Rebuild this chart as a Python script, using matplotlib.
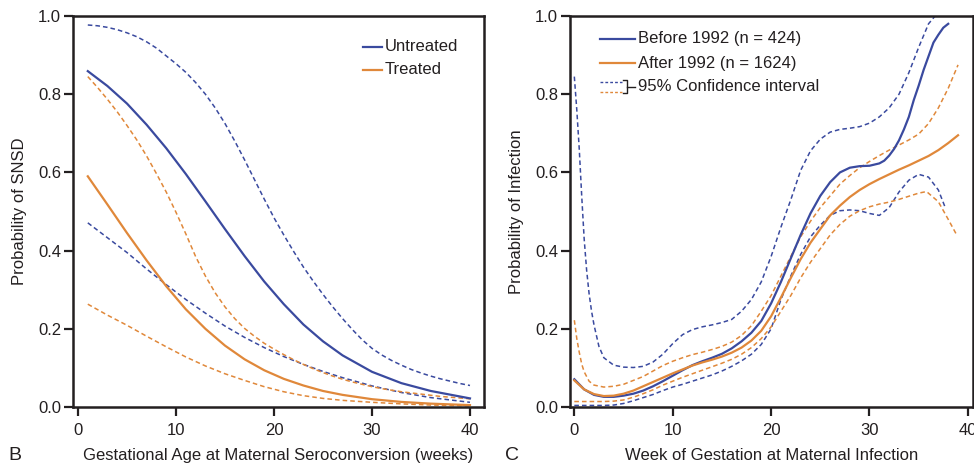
import matplotlib
matplotlib.use('Agg')
import matplotlib.pyplot as plt
import numpy as np

plt.rcParams['font.family'] = ['Liberation Sans', 'DejaVu Sans']
plt.rcParams['font.size'] = 12

blue = '#3a4a9f'
orange = '#e0883a'
dark = '#231f20'

# panel B - probability of SNSD
wk_b = [1, 3, 5, 7, 9, 11, 13, 15, 17, 19, 21, 23, 25, 27, 30, 33, 36, 40]
untreated = [0.859, 0.821, 0.776, 0.722, 0.662, 0.596, 0.526, 0.455, 0.386, 0.321,
             0.263, 0.211, 0.168, 0.132, 0.090, 0.061, 0.041, 0.022]
untreated_lo = [0.471, 0.433, 0.395, 0.353, 0.313, 0.275, 0.240, 0.207, 0.178, 0.152,
                0.129, 0.109, 0.091, 0.075, 0.054, 0.037, 0.024, 0.012]
treated = [0.590, 0.518, 0.445, 0.375, 0.309, 0.250, 0.200, 0.157, 0.122, 0.094,
           0.072, 0.055, 0.041, 0.031, 0.020, 0.013, 0.0086, 0.0048]
treated_lo = [0.263, 0.235, 0.209, 0.181, 0.154, 0.128, 0.105, 0.085, 0.068, 0.052,
              0.039, 0.029, 0.022, 0.017, 0.012, 0.008, 0.005, 0.003]

wk_b_hi = list(range(1, 41))
untreated_hi = [0.977, 0.975, 0.971, 0.965, 0.957, 0.947, 0.934, 0.918, 0.898, 0.878,
                0.856, 0.830, 0.800, 0.765, 0.725, 0.680, 0.632, 0.582, 0.532, 0.484,
                0.440, 0.398, 0.358, 0.322, 0.288, 0.256, 0.226, 0.198, 0.172, 0.150,
                0.133, 0.119, 0.107, 0.096, 0.087, 0.079, 0.072, 0.066, 0.060, 0.055]
treated_hi = [0.845, 0.817, 0.787, 0.755, 0.720, 0.683, 0.642, 0.597, 0.550, 0.498,
              0.443, 0.385, 0.335, 0.292, 0.256, 0.226, 0.201, 0.181, 0.163, 0.148,
              0.134, 0.121, 0.109, 0.098, 0.088, 0.079, 0.071, 0.064, 0.058, 0.052,
              0.047, 0.043, 0.039, 0.036, 0.033, 0.030, 0.027, 0.025, 0.023, 0.021]

# panel C - probability of infection
wk_before = list(range(0, 31)) + [31, 31.5, 32, 32.5, 33, 33.5, 34, 34.5, 35, 35.5,
                                  36, 36.5, 37, 37.5, 38]
wk_before = wk_before[:31] + wk_before[31:]
before = [0.071, 0.045, 0.031, 0.026, 0.026, 0.029, 0.034, 0.042, 0.053, 0.066,
          0.080, 0.094, 0.107, 0.117, 0.126, 0.136, 0.150, 0.168, 0.190, 0.220,
          0.265, 0.320, 0.380, 0.440, 0.495, 0.540, 0.575, 0.600, 0.612, 0.616,
          0.617, 0.623, 0.630, 0.643, 0.660, 0.682, 0.710, 0.742, 0.785, 0.822,
          0.862, 0.897, 0.932, 0.952, 0.970, 0.980]
wk_before_hi = [0, 0.25, 0.5, 0.75, 1, 1.25, 1.5, 1.75, 2, 2.5, 3, 4, 5, 6, 7, 8, 9, 10,
                11, 12, 13, 14, 15, 16, 17, 18, 19, 20, 21, 22, 23, 24, 25, 26, 27, 28,
                29, 30, 31, 32, 33, 34, 35, 36, 37]
before_hi = [0.845, 0.760, 0.660, 0.540, 0.430, 0.350, 0.290, 0.245, 0.210, 0.155,
             0.126, 0.107, 0.102, 0.101, 0.104, 0.115, 0.135, 0.162, 0.185, 0.198,
             0.205, 0.210, 0.216, 0.224, 0.245, 0.275, 0.320, 0.385, 0.460, 0.530,
             0.605, 0.655, 0.685, 0.703, 0.710, 0.713, 0.717, 0.726, 0.742, 0.765,
             0.800, 0.855, 0.920, 0.980, 1.010]
wk_before_lo = list(range(0, 38)) + [37.7]
before_lo = [0.004, 0.004, 0.004, 0.004, 0.005, 0.009, 0.016, 0.024, 0.032, 0.042,
             0.051, 0.058, 0.066, 0.074, 0.082, 0.092, 0.104, 0.118, 0.135, 0.160,
             0.200, 0.275, 0.335, 0.390, 0.435, 0.465, 0.490, 0.502, 0.504, 0.502,
             0.495, 0.490, 0.510, 0.550, 0.580, 0.595, 0.588, 0.555, 0.510]
wk_after = list(range(0, 40))
after = [0.068, 0.045, 0.033, 0.028, 0.029, 0.034, 0.042, 0.053, 0.064, 0.075,
         0.086, 0.096, 0.106, 0.114, 0.121, 0.129, 0.139, 0.152, 0.170, 0.195,
         0.232, 0.280, 0.330, 0.378, 0.420, 0.455, 0.490, 0.515, 0.537, 0.555,
         0.570, 0.583, 0.595, 0.607, 0.618, 0.630, 0.642, 0.657, 0.675, 0.695]
wk_after_hi = [0, 0.25, 0.5, 0.75, 1, 1.5, 2] + list(range(3, 40))
after_hi = [0.222, 0.175, 0.140, 0.110, 0.090, 0.066, 0.056, 0.051, 0.053, 0.058,
            0.068, 0.078, 0.092, 0.106, 0.117, 0.126, 0.134, 0.140, 0.147, 0.155,
            0.166, 0.183, 0.208, 0.245, 0.285, 0.335, 0.385, 0.435, 0.475, 0.510,
            0.540, 0.570, 0.592, 0.612, 0.628, 0.643, 0.657, 0.670, 0.683, 0.698,
            0.725, 0.765, 0.815, 0.875]
wk_after_lo = list(range(0, 36)) + [35.8, 37, 38, 38.8]
after_lo = [0.014, 0.014, 0.014, 0.014, 0.015, 0.018, 0.025, 0.034, 0.044, 0.056,
            0.066, 0.076, 0.085, 0.094, 0.103, 0.112, 0.122, 0.135, 0.152, 0.175,
            0.205, 0.245, 0.285, 0.330, 0.370, 0.405, 0.440, 0.467, 0.488, 0.502,
            0.512, 0.519, 0.524, 0.531, 0.539, 0.547, 0.551, 0.525, 0.480, 0.443]

W, H = 974, 469
fig = plt.figure(figsize=(W / 100, H / 100), dpi=100)


def setup(ax, xlim):
    ax.set_xlim(*xlim)
    ax.set_ylim(0, 1)
    ax.set_xticks([0, 10, 20, 30, 40])
    ax.set_yticks([0, 0.2, 0.4, 0.6, 0.8, 1.0])
    ax.set_yticklabels(['0.0', '0.2', '0.4', '0.6', '0.8', '1.0'])
    for s in ax.spines.values():
        s.set_linewidth(1.8)
        s.set_color(dark)
    ax.tick_params(direction='out', length=6.5, width=1.6, color=dark,
                   labelcolor=dark, labelsize=12)
    ax.tick_params(axis='x', pad=5)
    ax.tick_params(axis='y', pad=2)


dash = (3, 2)
lw_solid = 1.6
lw_dash = 1.1

# B
ax1 = fig.add_axes([73 / W, 1 - 407 / H, 411 / W, 391 / H])
setup(ax1, (-0.51, 41.43))
ax1.plot(wk_b_hi, untreated_hi, color=blue, lw=lw_dash, dashes=dash)
ax1.plot(wk_b, untreated_lo, color=blue, lw=lw_dash, dashes=dash)
ax1.plot(wk_b_hi, treated_hi, color=orange, lw=lw_dash, dashes=dash)
ax1.plot(wk_b, treated_lo, color=orange, lw=lw_dash, dashes=dash)
ax1.plot(wk_b, untreated, color=blue, lw=lw_solid)
ax1.plot(wk_b, treated, color=orange, lw=lw_solid)
ax1.set_ylabel('Probability of SNSD', color=dark, labelpad=8)
ax1.set_xlabel('Gestational Age at Maternal Seroconversion (weeks)', color=dark, labelpad=7)

# legend B
ax1.plot([0.7056, 0.7511], [0.9215, 0.9215], color=blue, lw=lw_solid, transform=ax1.transAxes)
ax1.plot([0.7056, 0.7511], [0.8619, 0.8619], color=orange, lw=lw_solid, transform=ax1.transAxes)
ax1.text(0.759, 0.9215, 'Untreated', color=dark, va='center', transform=ax1.transAxes)
ax1.text(0.759, 0.8619, 'Treated', color=dark, va='center', transform=ax1.transAxes)

# C
ax2 = fig.add_axes([570 / W, 1 - 407 / H, 403 / W, 391 / H])
setup(ax2, (-0.44, 40.52))
ax2.plot(wk_before_hi, before_hi, color=blue, lw=lw_dash, dashes=dash)
ax2.plot(wk_before_lo, before_lo, color=blue, lw=lw_dash, dashes=dash)
ax2.plot(wk_after_hi, after_hi, color=orange, lw=lw_dash, dashes=dash)
ax2.plot(wk_after_lo, after_lo, color=orange, lw=lw_dash, dashes=dash)
ax2.plot(wk_before, before, color=blue, lw=lw_solid)
ax2.plot(wk_after, after, color=orange, lw=lw_solid)
ax2.set_ylabel('Probability of Infection', color=dark, labelpad=8)
ax2.set_xlabel('Week of Gestation at Maternal Infection', color=dark, labelpad=7)

# legend C
tr = ax2.transAxes
ax2.plot([0.0744, 0.1613], [0.9412, 0.9412], color=blue, lw=lw_solid, transform=tr)
ax2.plot([0.0744, 0.1613], [0.879, 0.879], color=orange, lw=lw_solid, transform=tr)
ax2.plot([0.0744, 0.1283], [0.8304, 0.8304], color=blue, lw=1.0, dashes=(2, 1.5), transform=tr)
ax2.plot([0.0744, 0.1283], [0.8064, 0.8064], color=orange, lw=1.0, dashes=(2, 1.5), transform=tr)
ax2.plot([0.1315, 0.1407, 0.1407, 0.1315], [0.8363, 0.8363, 0.803, 0.803],
         color=dark, lw=1.0, transform=tr)
ax2.plot([0.1407, 0.1613], [0.8192, 0.8192], color=dark, lw=1.0, transform=tr)
ax2.text(0.1695, 0.9412, 'Before 1992 (n = 424)', color=dark, va='center', transform=tr)
ax2.text(0.1695, 0.879, 'After 1992 (n = 1624)', color=dark, va='center', transform=tr)
ax2.text(0.1695, 0.8192, '95% Confidence interval', color=dark, va='center', transform=tr)

# panel letters
fig.text(15 / W, 1 - 455 / H, 'B', fontsize=14, color=dark, ha='center', va='center')
fig.text(512 / W, 1 - 455 / H, 'C', fontsize=14, color=dark, ha='center', va='center')

plt.savefig('out.png', dpi=100)
